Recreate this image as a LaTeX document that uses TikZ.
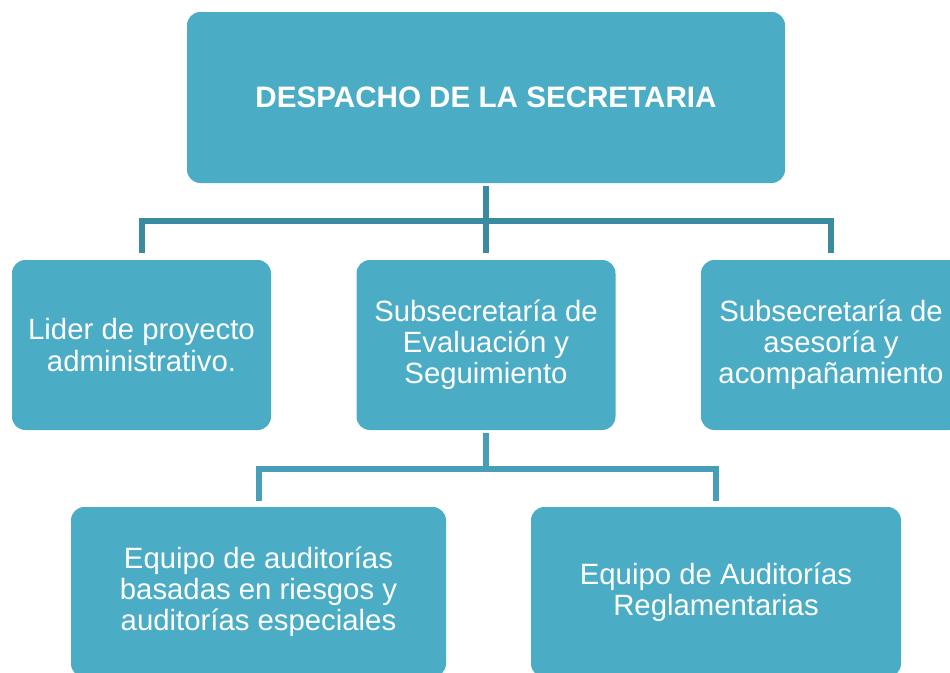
\documentclass[tikz,border=0pt]{standalone}
\usepackage{fontspec}
\setmainfont{Liberation Sans}
\usetikzlibrary{positioning, calc}
\definecolor{ccaja}{RGB}{75,172,198}
\definecolor{clinea}{RGB}{58,138,160}
\definecolor{clineab}{RGB}{70,158,183}

\begin{document}
\begin{tikzpicture}[x=0.75pt, y=-0.75pt,
    font=\fontsize{22pt}{23.3pt}\selectfont,
    unidad/.style={fill=ccaja, rounded corners=10pt, text=white, align=center,
      inner sep=0pt, minimum height=170*0.75pt},
    enlace/.style={draw=clinea, line width=4.5pt, shorten <=3*0.75pt, shorten >=7*0.75pt},
    enlaceb/.style={draw=clineab, line width=4.5pt}]

  \useasboundingbox (0,0) rectangle (950,672);

  % --- despacho ---
  \node[unidad, minimum width=598*0.75pt, minimum height=171*0.75pt, font=\fontsize{22.2pt}{23.3pt}\selectfont\bfseries]
    (desp) at (486,97.5) {DESPACHO DE LA SECRETARIA};

  % --- subsecretarias ---
  \node[unidad, minimum width=259*0.75pt] (lider) at (141.5,345) {Lider de proyecto\\administrativo.};
  \node[unidad, minimum width=259*0.75pt] (subeval) at (486,345) {Subsecretaría de\\Evaluación y\\Seguimiento};
  \node[unidad, minimum width=260*0.75pt] (subases) at (831,345) {Subsecretaría de\\asesoría y\\acompañamiento};

  % --- equipos ---
  \node[unidad, minimum width=375*0.75pt] (eqriesgo) at (258.5,592) {Equipo de auditorías\\basadas en riesgos y\\auditorías especiales};
  \node[unidad, minimum width=370*0.75pt] (eqregl) at (716,592) {Equipo de Auditorías\\Reglamentarias};

  % --- conectores ---
  \draw[enlace] (desp.south) -- (subeval.north);
  \draw[enlace, shorten <=7*0.75pt] (lider.north) -- ++(0,-39) -| (subases.north);
  \draw[enlaceb, shorten <=3*0.75pt] (subeval.south) -- ++(0,39);
  \draw[enlaceb, shorten <=6*0.75pt, shorten >=6*0.75pt] (eqriesgo.north) -- ++(0,-38) -| (eqregl.north);
\end{tikzpicture}
\end{document}
